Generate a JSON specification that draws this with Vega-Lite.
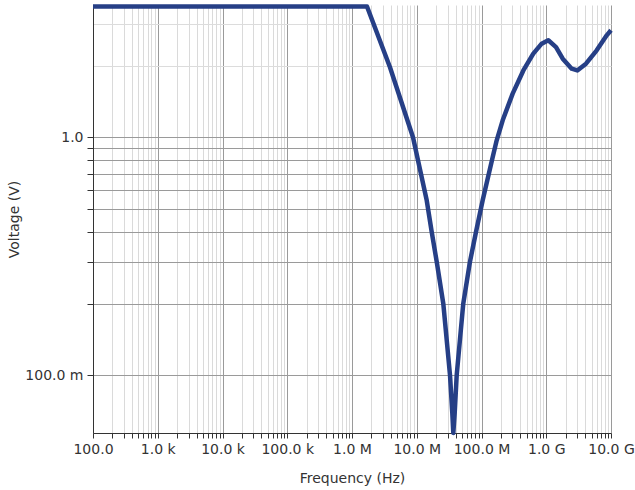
{
  "$schema": "https://vega.github.io/schema/vega-lite/v6.json",
  "width": 518,
  "height": 428,
  "autosize": {"type": "none"},
  "padding": {"left": 93, "top": 5, "right": 24, "bottom": 57},
  "background": "white",
  "config": {
    "view": {"stroke": null},
    "font": "DejaVu Sans",
    "axis": {"labelFont": "DejaVu Sans", "titleFont": "DejaVu Sans", "labelFontSize": 14, "titleFontSize": 14, "titleFontWeight": "normal", "labelColor": "#333333", "titleColor": "#333333", "domainColor": "#333333", "tickColor": "#333333", "gridWidth": 1}
  },
  "data": {
    "values": [
      {"f": 100, "v": 3.55},
      {"f": 1000, "v": 3.55},
      {"f": 10000, "v": 3.55},
      {"f": 100000, "v": 3.55},
      {"f": 1000000, "v": 3.55},
      {"f": 1705000, "v": 3.55},
      {"f": 3860000, "v": 1.97},
      {"f": 8750000, "v": 1.0},
      {"f": 10450000, "v": 0.80},
      {"f": 14250000, "v": 0.5435},
      {"f": 17020000, "v": 0.4},
      {"f": 20330000, "v": 0.3},
      {"f": 25700000, "v": 0.2},
      {"f": 32630000, "v": 0.1},
      {"f": 35400000, "v": 0.0692},
      {"f": 36700000, "v": 0.0571},
      {"f": 38550000, "v": 0.0692},
      {"f": 41400000, "v": 0.1},
      {"f": 52300000, "v": 0.2},
      {"f": 66400000, "v": 0.3},
      {"f": 82200000, "v": 0.4},
      {"f": 104300000, "v": 0.5435},
      {"f": 149000000, "v": 0.827},
      {"f": 171700000, "v": 0.971},
      {"f": 212500000, "v": 1.179},
      {"f": 303000000, "v": 1.526},
      {"f": 443000000, "v": 1.91},
      {"f": 631000000, "v": 2.248},
      {"f": 850000000, "v": 2.476},
      {"f": 1076000000, "v": 2.56},
      {"f": 1415000000, "v": 2.395},
      {"f": 1795000000, "v": 2.141},
      {"f": 2470000000, "v": 1.944},
      {"f": 3020000000, "v": 1.91},
      {"f": 4110000000, "v": 2.04},
      {"f": 6010000000, "v": 2.321},
      {"f": 8590000000, "v": 2.683},
      {"f": 10000000000, "v": 2.82}
    ]
  },
  "mark": {"type": "line", "color": "#263f86", "strokeWidth": 4.5, "interpolate": "linear", "strokeJoin": "round", "clip": false},
  "encoding": {
    "x": {
      "field": "f", "type": "quantitative",
      "scale": {"type": "log", "domain": [100, 10000000000], "nice": false},
      "axis": {
        "title": "Frequency (Hz)",
        "titleX": 259, "titleY": 45, "titleBaseline": "middle",
        "values": [100,200,300,400,500,600,700,800,900,1000,2000,3000,4000,5000,6000,7000,8000,9000,10000,20000,30000,40000,50000,60000,70000,80000,90000,100000,200000,300000,400000,500000,600000,700000,800000,900000,1000000,2000000,3000000,4000000,5000000,6000000,7000000,8000000,9000000,10000000,20000000,30000000,40000000,50000000,60000000,70000000,80000000,90000000,100000000,200000000,300000000,400000000,500000000,600000000,700000000,800000000,900000000,1000000000,2000000000,3000000000,4000000000,5000000000,6000000000,7000000000,8000000000,9000000000,10000000000],
        "labelExpr": "abs(datum.value / pow(10, round(log(datum.value)/LN10)) - 1) < 0.000001 ? (datum.value >= 1e9 ? format(datum.value/1e9, '.1f') + ' G' : datum.value >= 1e6 ? format(datum.value/1e6, '.1f') + ' M' : datum.value >= 1e3 ? format(datum.value/1e3, '.1f') + ' k' : format(datum.value, '.1f')) : ''",
        "labelPadding": 4,
        "tickSize": 5,
        "labelOverlap": false,
        "labelFlush": false,
        "grid": true,
        "gridColor": {"condition": {"test": "abs(datum.value / pow(10, round(log(datum.value)/LN10)) - 1) < 0.000001", "value": "#9a9a9a"}, "value": "#dadada"}
      }
    },
    "y": {
      "field": "v", "type": "quantitative",
      "scale": {"type": "log", "domain": [0.0571, 3.6], "nice": false},
      "axis": {
        "title": "Voltage (V)",
        "titleX": -79, "titleY": 214, "titleBaseline": "middle", "titleAngle": 270,
        "values": [0.1,0.2,0.3,0.4,0.5,0.6,0.7,0.8,0.9,1.0,2,3],
        "labelExpr": "abs(datum.value - 1) < 0.0001 ? '1.0' : abs(datum.value - 0.1) < 0.0001 ? '100.0 m' : ''",
        "labelPadding": 4,
        "tickSize": 6,
        "labelOverlap": false,
        "grid": true,
        "tickColor": {"condition": {"test": "datum.value > 1.01", "value": "transparent"}, "value": "#333333"},
        "gridColor": {"condition": {"test": "datum.value > 1.01", "value": "#dcdcdc"}, "value": "#9a9a9a"}
      }
    }
  }
}
